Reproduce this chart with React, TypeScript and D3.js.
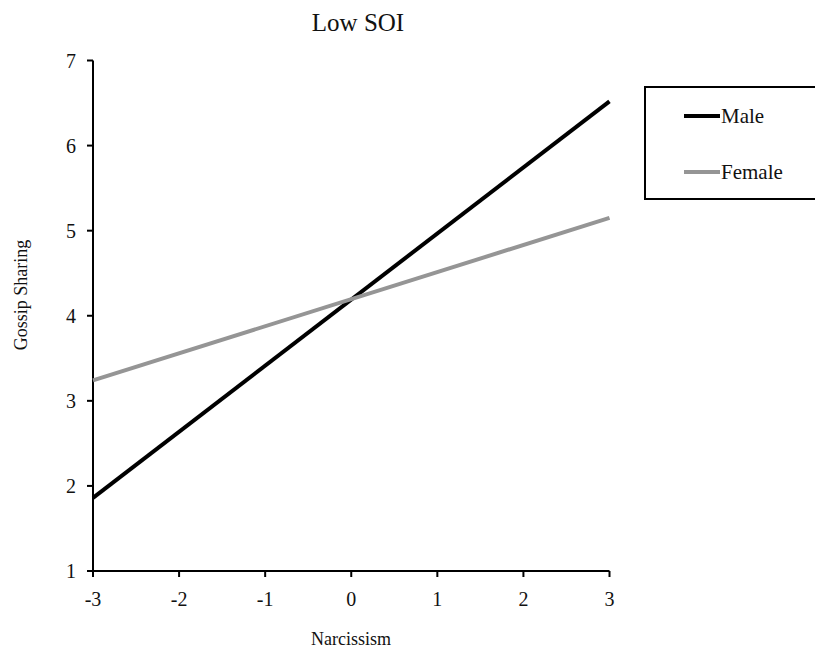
import React from "react";
import * as d3 from "d3";

const xTicks = [-3, -2, -1, 0, 1, 2, 3];
const yTicks = [1, 2, 3, 4, 5, 6, 7];
const seriesNames = ["Male", "Female"];
const seriesColors = ["#000000", "#959595"];
const narcissism = [-3, 3];
const maleValues = [1.86, 6.52];
const femaleValues = [3.24, 5.15];

const W = 815;
const H = 655;
const font = "Liberation Serif, DejaVu Serif, serif";

export default function App() {
  const x = d3.scaleLinear().domain([-3, 3]).range([93, 609.5]);
  const y = d3.scaleLinear().domain([1, 7]).range([571, 60.5]);
  const line = d3
    .line<[number, number]>()
    .x((d) => x(d[0]))
    .y((d) => y(d[1]));
  const series = [maleValues, femaleValues];
  const ts = { fontFamily: font };

  return (
    <svg
      width={W}
      height={H}
      style={{ position: "absolute", left: 0, top: 0, background: "#fff" }}
    >
      <rect x={0} y={0} width={W} height={H} fill="#fff" />
      <text x={358} y={31} fontSize={25} textAnchor="middle" fill="#111" style={ts}>
        Low SOI
      </text>

      {/* y axis */}
      <line x1={x(-3)} x2={x(-3)} y1={y(7)} y2={y(1)} stroke="#000" strokeWidth={2} />
      {yTicks.map((t) => (
        <g key={"y" + t}>
          <line x1={x(-3) - 6} x2={x(-3)} y1={y(t)} y2={y(t)} stroke="#000" strokeWidth={2} />
          <text x={x(-3) - 17} y={y(t)} dy="0.35em" fontSize={20} textAnchor="end" fill="#111" style={ts}>
            {t}
          </text>
        </g>
      ))}

      {/* x axis */}
      <line x1={x(-3) - 6} x2={x(3)} y1={y(1)} y2={y(1)} stroke="#000" strokeWidth={2} />
      {xTicks.map((t) => (
        <g key={"x" + t}>
          <line x1={x(t)} x2={x(t)} y1={y(1)} y2={y(1) + 6} stroke="#000" strokeWidth={2} />
          <text x={x(t)} y={y(1) + 35} fontSize={20} textAnchor="middle" fill="#111" style={ts}>
            {t}
          </text>
        </g>
      ))}

      {/* lines */}
      {series.map((vals, i) => (
        <path
          key={seriesNames[i]}
          d={line(narcissism.map((n, j) => [n, vals[j]] as [number, number])) || ""}
          fill="none"
          stroke={seriesColors[i]}
          strokeWidth={4}
        />
      ))}

      {/* axis titles */}
      <text
        transform={`translate(27, 295) rotate(-90)`}
        fontSize={18}
        textAnchor="middle"
        fill="#111"
        style={ts}
      >
        Gossip Sharing
      </text>
      <text x={351} y={645} fontSize={18} textAnchor="middle" fill="#111" style={ts}>
        Narcissism
      </text>

      {/* legend */}
      <rect x={645} y={87} width={175} height={112} fill="none" stroke="#000" strokeWidth={2} />
      {seriesNames.map((name, i) => (
        <g key={"lg" + name}>
          <line
            x1={684}
            x2={720}
            y1={116 + i * 56}
            y2={116 + i * 56}
            stroke={seriesColors[i]}
            strokeWidth={4}
          />
          <text x={721} y={116 + i * 56} dy="0.35em" fontSize={21} fill="#111" style={ts}>
            {name}
          </text>
        </g>
      ))}
    </svg>
  );
}
